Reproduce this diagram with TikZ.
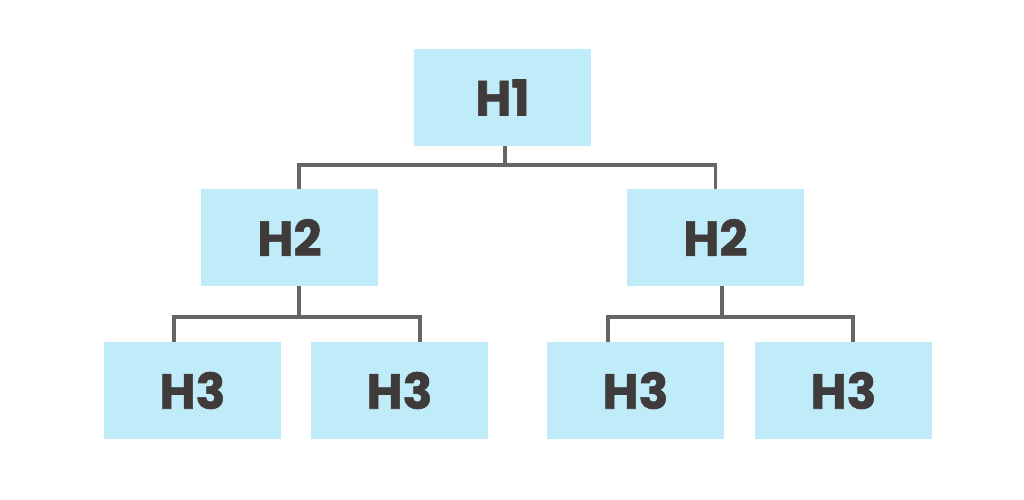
\documentclass[tikz,border=0pt]{standalone}
\usepackage{fontspec}
\setmainfont{Poppins}[BoldFeatures={FakeBold=1.2}]
\usepackage{tikz}
\usetikzlibrary{positioning}

\definecolor{boxblue}{HTML}{C0ECF9}
\definecolor{labelgray}{HTML}{3F3B3B}
\definecolor{linegray}{HTML}{666666}

\begin{document}
\begin{tikzpicture}

\tikzstyle{block} = [fill=boxblue, text=labelgray, inner sep=0pt, minimum width=4.425cm, minimum height=2.425cm, font=\fontsize{35}{40}\selectfont\bfseries]
\tikzstyle{link} = [draw=linegray, line width=2.6pt]

\useasboundingbox (0,0) rectangle (25.6,-12.5);

%Top level

\path (12.5625,-2.4375) node (h1) [block] {H1};

%Second level

\path (h1)+(-5.325,-3.5) node (h2_left) [block] {H2};
\path (h1)+(5.325,-3.5) node (h2_right) [block] {H2};

%Third level

\path (h2_left)+(-2.425,-3.825) node (h3_a) [block] {H3};
\path (h2_left)+(2.75,-3.825) node (h3_b) [block] {H3};
\path (h2_right)+(-2,-3.825) node (h3_c) [block] {H3};
\path (h2_right)+(3.2,-3.825) node (h3_d) [block] {H3};

%Connectors

\path (h1.south)+(0.0625,0) coordinate (h1_out);
\path (h1_out)+(0,-0.4625) coordinate (bar_1);
\path (h2_left.north)+(0.2375,0) coordinate (h2_left_in);
\path (h2_right.north)+(0,0) coordinate (h2_right_in);

\draw [link] (h1_out) -- (bar_1);
\draw [link] (h2_left_in) |- (bar_1) -| (h2_right_in);

\path (h2_left.south)+(0.2375,0) coordinate (h2_left_out);
\path (h2_left_out)+(0,-0.775) coordinate (bar_2);
\path (h3_a.north)+(-0.4625,0) coordinate (h3_a_in);
\path (h3_b.north)+(0.5125,0) coordinate (h3_b_in);

\draw [link] (h2_left_out) -- (bar_2);
\draw [link] (h3_a_in) |- (bar_2) -| (h3_b_in);

\path (h2_right.south)+(0.1625,0) coordinate (h2_right_out);
\path (h2_right_out)+(0,-0.775) coordinate (bar_3);
\path (h3_c.north)+(-0.6875,0) coordinate (h3_c_in);
\path (h3_d.north)+(0.2375,0) coordinate (h3_d_in);

\draw [link] (h2_right_out) -- (bar_3);
\draw [link] (h3_c_in) |- (bar_3) -| (h3_d_in);

\end{tikzpicture}
\end{document}
